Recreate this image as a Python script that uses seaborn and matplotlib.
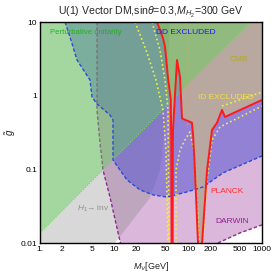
import numpy as np
import seaborn as sns
import matplotlib
matplotlib.use("Agg")
import matplotlib.pyplot as plt
from matplotlib.patches import Polygon

# ---- data (M_V in GeV, g~) ----
x_ticks = [1, 2, 5, 10, 20, 50, 100, 200, 500, 1000]
x_labels = ["1.", "2", "5", "10", "20", "50", "100", "200", "500", "1000"]
y_ticks = [0.01, 0.1, 1, 10]
y_labels = ["0.01", "0.1", "1", "10"]

# relic density (Planck) curve
red_M = [38.1, 45.9, 48.9, 53.7, 58.5, 59.5, 60.0, 62.0, 62.3, 62.7, 71.0, 78.0, 83.0,
         113, 117, 124, 136, 143, 150, 155, 181, 211, 246, 288, 316, 1000]
red_g = [10, 6.07, 4.58, 1.74, 0.875, 0.2, 0.005, 0.005, 0.2, 0.343, 3.05, 1.79, 0.49,
         0.43, 0.30, 0.098, 0.011, 0.005, 0.005, 0.01, 0.098, 0.343, 0.426, 0.64, 0.514, 0.875]

# direct detection boundary (blue dashed)
dd_M = [2.18, 2.62, 3.16, 4.74, 5.05, 5.89, 8.83, 9.69, 9.69, 12.05, 15.0, 22.5,
        33.6, 52.0, 96.9, 160, 297, 1000]
dd_g = [10, 5.70, 3.05, 1.63, 0.96, 0.771, 0.547, 0.468, 0.134, 0.098, 0.0718, 0.0526,
        0.045, 0.042, 0.0494, 0.0577, 0.0894, 0.152]

# DARWIN reach (purple dashed)
darwin_left_M = [5.89, 5.89, 6.47, 7.1, 8.83, 12.2]
darwin_left_g = [10, 0.64, 0.228, 0.098, 0.042, 0.01]
darwin_right_M = [254, 504, 1000]
darwin_right_g = [0.01, 0.0137, 0.0176]

# H1 -> invisible
inv_M = [10.3, 30.6, 41.8, 50.4, 57.1]
inv_g = [0.01, 0.041, 0.098, 0.468, 10]

# perturbative unitarity
pu_M = [1, 700]
pu_g = [0.0137, 10]

# indirect detection (yellow dotted)
id1_M = [19.2, 27.1, 36.9, 45.9, 50.4, 53.7]
id1_g = [10, 4.17, 1.63, 0.64, 0.183, 0.01]
id2_M = [32.6, 41.8, 48.9, 53.7, 55.4]
id2_g = [10, 4.17, 1.63, 0.64, 0.01]
id3_M = [68.9, 68.9, 78, 91.0, 106, 120, 132, 141]
id3_g = [0.01, 0.098, 0.183, 0.25, 0.322, 0.183, 0.038, 0.01]
id4_M = [160, 181, 211, 271, 1000]
id4_g = [0.01, 0.0718, 0.25, 0.376, 0.724]
id5_M = [288, 1000]
id5_g = [0.724, 1.12]

# orange dotted vertical
orange_M = [96.9, 96.9]
orange_g = [10, 0.376]

sns.set_style("white")
plt.rcParams['font.family'] = ['Liberation Sans', 'DejaVu Sans']
plt.rcParams['mathtext.fontset'] = 'custom'
plt.rcParams['mathtext.rm'] = 'Liberation Sans'
plt.rcParams['mathtext.it'] = 'Liberation Sans:italic'

fig = plt.figure(figsize=(2.74, 2.76), dpi=100)
ax = fig.add_axes([40 / 274, 1 - 243 / 276, 222 / 274, 221 / 276])
ax.set_xscale("log")
ax.set_yscale("log")

# ---- shaded regions ----
pink_M = darwin_left_M + darwin_right_M + [1000]
pink_g = darwin_left_g + darwin_right_g + [10]
ax.fill(pink_M, pink_g, color=(219 / 255, 183 / 255, 219 / 255), lw=0, zorder=1)

ax.fill([1] + inv_M + [1], [0.01] + inv_g + [10], color="#808080", alpha=0.3, lw=0, zorder=1.1)

ax.fill(red_M + [1000], red_g + [10], color=(119 / 255, 140 / 255, 50 / 255), alpha=0.35,
        lw=0, zorder=1.2)

below = Polygon(np.column_stack([red_M + [1000, 1, 1], red_g + [0.001, 0.001, 10]]),
                closed=True, transform=ax.transData)
blue = ax.fill(dd_M + [1000], dd_g + [10], color=(77 / 255, 77 / 255, 209 / 255), alpha=0.5,
               lw=0, zorder=1.3)
blue[0].set_clip_path(below)

# DARWIN lines under the green layer
sns.lineplot(x=darwin_left_M, y=darwin_left_g, sort=False, estimator=None, ax=ax,
             color="#8e2a8e", lw=1, linestyle=(0, (2.5, 1.5)), zorder=1.4)
sns.lineplot(x=darwin_right_M, y=darwin_right_g, sort=False, estimator=None, ax=ax,
             color="#8e2a8e", lw=1, linestyle=(0, (2.5, 1.5)), zorder=1.4)

ax.fill(pu_M + [1], pu_g + [10], color=(93 / 255, 214 / 255, 81 / 255), alpha=0.42, lw=0,
        zorder=1.5)
sns.lineplot(x=pu_M, y=pu_g, sort=False, estimator=None, ax=ax,
             color="#78d868", lw=0.8, linestyle=(0, (1, 1.5)), zorder=1.55)

sns.lineplot(x=dd_M, y=dd_g, sort=False, estimator=None, ax=ax,
             color="#2a4bd7", lw=1, linestyle=(0, (2.5, 1.5)), zorder=1.6)

for m, g in [(id1_M, id1_g), (id2_M, id2_g), (id3_M, id3_g), (id4_M, id4_g), (id5_M, id5_g)]:
    sns.lineplot(x=m, y=g, sort=False, estimator=None, ax=ax,
                 color="#f5f03a", lw=1.2, linestyle=(0, (1, 1.6)), zorder=1.7)
sns.lineplot(x=orange_M, y=orange_g, sort=False, estimator=None, ax=ax,
             color="#f0a030", lw=1, linestyle=(0, (1, 1.6)), zorder=1.7)

sns.lineplot(x=red_M, y=red_g, sort=False, estimator=None, ax=ax,
             color="#ff1a1a", lw=1.4, zorder=1.8)

# ---- labels ----
ax.text(1.365, 7.1, "Perturbative unitarity", color="#22b022", fontsize=5.6, va="center", zorder=3)
ax.text(36.9, 7.1, "DD EXCLUDED", color="#1a1aff", fontsize=6, va="center", zorder=3)
ax.text(370, 3.05, "CMB", color="#b4a828", fontsize=6, va="center", zorder=3)
ax.text(136, 0.93, "ID EXCLUDED", color="#f0e040", fontsize=6, va="center", zorder=3)
ax.text(198, 0.0494, "PLANCK", color="#ff3030", fontsize=6, va="center", zorder=3)
ax.text(232, 0.0193, "DARWIN", color="#902090", fontsize=6, va="center", zorder=3)
ax.text(3.16, 0.029, r"$H_1\!\to$inv", color="#909090", fontsize=6, va="center", zorder=3)

ax.set_xlim(1, 1000)
ax.set_ylim(0.01, 10)
ax.minorticks_off()
ax.set_xticks(x_ticks)
ax.set_xticklabels(x_labels)
ax.set_yticks(y_ticks)
ax.set_yticklabels(y_labels)
ax.tick_params(direction="in", length=3, width=0.8, labelsize=6, pad=2, colors="black")
ax.set_xlabel(r"$M_V$[GeV]", fontsize=6.5, labelpad=5)
ax.set_ylabel(r"$\tilde{g}$", fontsize=7, labelpad=2)
ax.set_title(r"U(1) Vector DM,sin$\theta$=0.3,$M_{H_2}$=300 GeV", fontsize=7.6, pad=5)
for s in ax.spines.values():
    s.set_color("black")
    s.set_linewidth(1)

fig.savefig("out.png", dpi=100)
